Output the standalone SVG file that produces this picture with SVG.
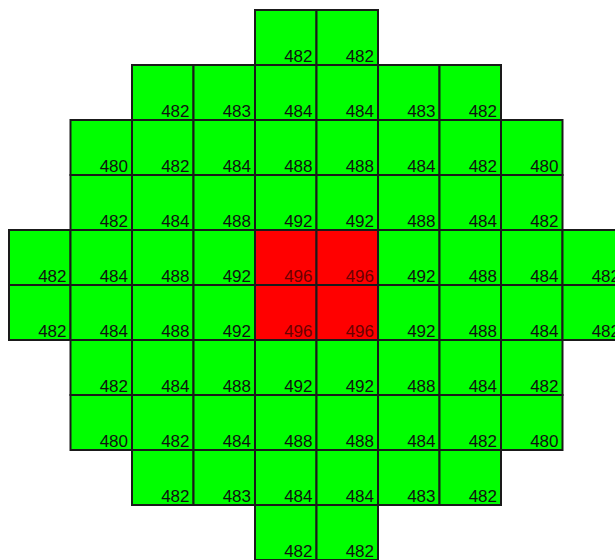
<svg xmlns="http://www.w3.org/2000/svg" width="615" height="560" viewBox="0 0 615 560">
<style>
rect{stroke:#1a1a1a;stroke-width:2}
.g{fill:#00ff00}
.r{fill:#ff0000}
text{font-family:"Liberation Sans",Arial,sans-serif;font-size:17px;text-anchor:end;fill:#111}
.rt{fill:#6a0000}
</style>
<rect width="615" height="560" fill="#ffffff" style="stroke:none"/>
<g id="connectors"></g>
<g id="r0c4"><rect class="g" x="255" y="10" width="61.5" height="55"/><text x="312.5" y="62">482</text></g>
<g id="r0c5"><rect class="g" x="316.5" y="10" width="61.5" height="55"/><text x="374" y="62">482</text></g>
<g id="r1c2"><rect class="g" x="132" y="65" width="61.5" height="55"/><text x="189.5" y="117">482</text></g>
<g id="r1c3"><rect class="g" x="193.5" y="65" width="61.5" height="55"/><text x="251" y="117">483</text></g>
<g id="r1c4"><rect class="g" x="255" y="65" width="61.5" height="55"/><text x="312.5" y="117">484</text></g>
<g id="r1c5"><rect class="g" x="316.5" y="65" width="61.5" height="55"/><text x="374" y="117">484</text></g>
<g id="r1c6"><rect class="g" x="378" y="65" width="61.5" height="55"/><text x="435.5" y="117">483</text></g>
<g id="r1c7"><rect class="g" x="439.5" y="65" width="61.5" height="55"/><text x="497" y="117">482</text></g>
<g id="r2c1"><rect class="g" x="70.5" y="120" width="61.5" height="55"/><text x="128" y="172">480</text></g>
<g id="r2c2"><rect class="g" x="132" y="120" width="61.5" height="55"/><text x="189.5" y="172">482</text></g>
<g id="r2c3"><rect class="g" x="193.5" y="120" width="61.5" height="55"/><text x="251" y="172">484</text></g>
<g id="r2c4"><rect class="g" x="255" y="120" width="61.5" height="55"/><text x="312.5" y="172">488</text></g>
<g id="r2c5"><rect class="g" x="316.5" y="120" width="61.5" height="55"/><text x="374" y="172">488</text></g>
<g id="r2c6"><rect class="g" x="378" y="120" width="61.5" height="55"/><text x="435.5" y="172">484</text></g>
<g id="r2c7"><rect class="g" x="439.5" y="120" width="61.5" height="55"/><text x="497" y="172">482</text></g>
<g id="r2c8"><rect class="g" x="501" y="120" width="61.5" height="55"/><text x="558.5" y="172">480</text></g>
<g id="r3c1"><rect class="g" x="70.5" y="175" width="61.5" height="55"/><text x="128" y="227">482</text></g>
<g id="r3c2"><rect class="g" x="132" y="175" width="61.5" height="55"/><text x="189.5" y="227">484</text></g>
<g id="r3c3"><rect class="g" x="193.5" y="175" width="61.5" height="55"/><text x="251" y="227">488</text></g>
<g id="r3c4"><rect class="g" x="255" y="175" width="61.5" height="55"/><text x="312.5" y="227">492</text></g>
<g id="r3c5"><rect class="g" x="316.5" y="175" width="61.5" height="55"/><text x="374" y="227">492</text></g>
<g id="r3c6"><rect class="g" x="378" y="175" width="61.5" height="55"/><text x="435.5" y="227">488</text></g>
<g id="r3c7"><rect class="g" x="439.5" y="175" width="61.5" height="55"/><text x="497" y="227">484</text></g>
<g id="r3c8"><rect class="g" x="501" y="175" width="61.5" height="55"/><text x="558.5" y="227">482</text></g>
<g id="r4c0"><rect class="g" x="9" y="230" width="61.5" height="55"/><text x="66.5" y="282">482</text></g>
<g id="r4c1"><rect class="g" x="70.5" y="230" width="61.5" height="55"/><text x="128" y="282">484</text></g>
<g id="r4c2"><rect class="g" x="132" y="230" width="61.5" height="55"/><text x="189.5" y="282">488</text></g>
<g id="r4c3"><rect class="g" x="193.5" y="230" width="61.5" height="55"/><text x="251" y="282">492</text></g>
<g id="r4c4"><rect class="r" x="255" y="230" width="61.5" height="55"/><text class="rt" x="312.5" y="282">496</text></g>
<g id="r4c5"><rect class="r" x="316.5" y="230" width="61.5" height="55"/><text class="rt" x="374" y="282">496</text></g>
<g id="r4c6"><rect class="g" x="378" y="230" width="61.5" height="55"/><text x="435.5" y="282">492</text></g>
<g id="r4c7"><rect class="g" x="439.5" y="230" width="61.5" height="55"/><text x="497" y="282">488</text></g>
<g id="r4c8"><rect class="g" x="501" y="230" width="61.5" height="55"/><text x="558.5" y="282">484</text></g>
<g id="r4c9"><rect class="g" x="562.5" y="230" width="61.5" height="55"/><text x="620" y="282">482</text></g>
<g id="r5c0"><rect class="g" x="9" y="285" width="61.5" height="55"/><text x="66.5" y="337">482</text></g>
<g id="r5c1"><rect class="g" x="70.5" y="285" width="61.5" height="55"/><text x="128" y="337">484</text></g>
<g id="r5c2"><rect class="g" x="132" y="285" width="61.5" height="55"/><text x="189.5" y="337">488</text></g>
<g id="r5c3"><rect class="g" x="193.5" y="285" width="61.5" height="55"/><text x="251" y="337">492</text></g>
<g id="r5c4"><rect class="r" x="255" y="285" width="61.5" height="55"/><text class="rt" x="312.5" y="337">496</text></g>
<g id="r5c5"><rect class="r" x="316.5" y="285" width="61.5" height="55"/><text class="rt" x="374" y="337">496</text></g>
<g id="r5c6"><rect class="g" x="378" y="285" width="61.5" height="55"/><text x="435.5" y="337">492</text></g>
<g id="r5c7"><rect class="g" x="439.5" y="285" width="61.5" height="55"/><text x="497" y="337">488</text></g>
<g id="r5c8"><rect class="g" x="501" y="285" width="61.5" height="55"/><text x="558.5" y="337">484</text></g>
<g id="r5c9"><rect class="g" x="562.5" y="285" width="61.5" height="55"/><text x="620" y="337">482</text></g>
<g id="r6c1"><rect class="g" x="70.5" y="340" width="61.5" height="55"/><text x="128" y="392">482</text></g>
<g id="r6c2"><rect class="g" x="132" y="340" width="61.5" height="55"/><text x="189.5" y="392">484</text></g>
<g id="r6c3"><rect class="g" x="193.5" y="340" width="61.5" height="55"/><text x="251" y="392">488</text></g>
<g id="r6c4"><rect class="g" x="255" y="340" width="61.5" height="55"/><text x="312.5" y="392">492</text></g>
<g id="r6c5"><rect class="g" x="316.5" y="340" width="61.5" height="55"/><text x="374" y="392">492</text></g>
<g id="r6c6"><rect class="g" x="378" y="340" width="61.5" height="55"/><text x="435.5" y="392">488</text></g>
<g id="r6c7"><rect class="g" x="439.5" y="340" width="61.5" height="55"/><text x="497" y="392">484</text></g>
<g id="r6c8"><rect class="g" x="501" y="340" width="61.5" height="55"/><text x="558.5" y="392">482</text></g>
<g id="r7c1"><rect class="g" x="70.5" y="395" width="61.5" height="55"/><text x="128" y="447">480</text></g>
<g id="r7c2"><rect class="g" x="132" y="395" width="61.5" height="55"/><text x="189.5" y="447">482</text></g>
<g id="r7c3"><rect class="g" x="193.5" y="395" width="61.5" height="55"/><text x="251" y="447">484</text></g>
<g id="r7c4"><rect class="g" x="255" y="395" width="61.5" height="55"/><text x="312.5" y="447">488</text></g>
<g id="r7c5"><rect class="g" x="316.5" y="395" width="61.5" height="55"/><text x="374" y="447">488</text></g>
<g id="r7c6"><rect class="g" x="378" y="395" width="61.5" height="55"/><text x="435.5" y="447">484</text></g>
<g id="r7c7"><rect class="g" x="439.5" y="395" width="61.5" height="55"/><text x="497" y="447">482</text></g>
<g id="r7c8"><rect class="g" x="501" y="395" width="61.5" height="55"/><text x="558.5" y="447">480</text></g>
<g id="r8c2"><rect class="g" x="132" y="450" width="61.5" height="55"/><text x="189.5" y="502">482</text></g>
<g id="r8c3"><rect class="g" x="193.5" y="450" width="61.5" height="55"/><text x="251" y="502">483</text></g>
<g id="r8c4"><rect class="g" x="255" y="450" width="61.5" height="55"/><text x="312.5" y="502">484</text></g>
<g id="r8c5"><rect class="g" x="316.5" y="450" width="61.5" height="55"/><text x="374" y="502">484</text></g>
<g id="r8c6"><rect class="g" x="378" y="450" width="61.5" height="55"/><text x="435.5" y="502">483</text></g>
<g id="r8c7"><rect class="g" x="439.5" y="450" width="61.5" height="55"/><text x="497" y="502">482</text></g>
<g id="r9c4"><rect class="g" x="255" y="505" width="61.5" height="55"/><text x="312.5" y="557">482</text></g>
<g id="r9c5"><rect class="g" x="316.5" y="505" width="61.5" height="55"/><text x="374" y="557">482</text></g>
</svg>
